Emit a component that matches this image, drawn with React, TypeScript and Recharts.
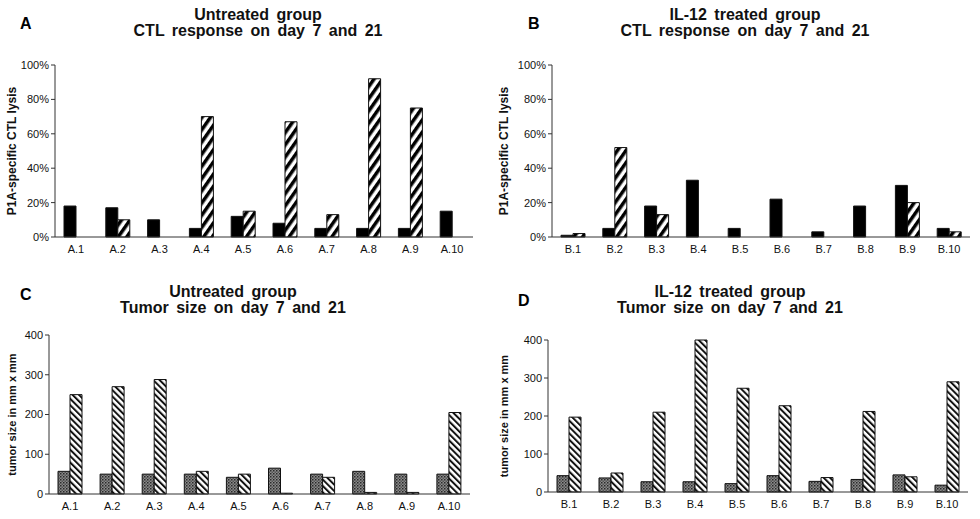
import { BarChart, Bar, XAxis, YAxis } from "recharts";

const subjectsA = ["A.1", "A.2", "A.3", "A.4", "A.5", "A.6", "A.7", "A.8", "A.9", "A.10"];
const subjectsB = ["B.1", "B.2", "B.3", "B.4", "B.5", "B.6", "B.7", "B.8", "B.9", "B.10"];

// CTL lysis (%) day 7 / day 21
const ctlA7 = [18, 17, 10, 5, 12, 8, 5, 5, 5, 15];
const ctlA21 = [0, 10, 0, 70, 15, 67, 13, 92, 75, 0];
const ctlB7 = [1, 5, 18, 33, 5, 22, 3, 18, 30, 5];
const ctlB21 = [2, 52, 13, 0, 0, 0, 0, 0, 20, 3];

// tumor size (mm x mm) day 7 / day 21
const tumorA7 = [57, 50, 50, 50, 42, 65, 50, 57, 50, 50];
const tumorA21 = [250, 270, 288, 57, 50, 2, 42, 4, 4, 205];
const tumorB7 = [43, 37, 27, 27, 22, 43, 28, 33, 45, 18];
const tumorB21 = [197, 50, 210, 400, 273, 227, 38, 212, 40, 290];

const pctTicks = [0, 20, 40, 60, 80, 100];
const sizeTicks = [0, 100, 200, 300, 400];
const boundaryTicks = [0, 1, 2, 3, 4, 5, 6, 7, 8, 9, 10];

const font = "'Liberation Sans', Arial, sans-serif";

const toRows = (names: string[], d7: number[], d21: number[]) =>
  names.map((name, i) => ({ name, d7: d7[i], d21: d21[i] }));

function Patterns() {
  return (
    <defs>
      <pattern id="thickHatch" width="7" height="7" patternUnits="userSpaceOnUse" patternTransform="rotate(35)">
        <rect width="7" height="7" fill="#fff" />
        <rect width="3.5" height="7" fill="#000" />
      </pattern>
      <pattern id="thinHatch" width="4.5" height="4.5" patternUnits="userSpaceOnUse" patternTransform="rotate(-45)">
        <rect width="4.5" height="4.5" fill="#fff" />
        <rect width="2" height="4.5" fill="#111" />
      </pattern>
      <pattern id="dots" width="3" height="3" patternUnits="userSpaceOnUse">
        <rect width="3" height="3" fill="#8a8a8a" />
        <rect width="1.5" height="1.5" fill="#2a2a2a" />
        <rect x="1.5" y="1.5" width="1.5" height="1.5" fill="#555" />
      </pattern>
    </defs>
  );
}

interface PanelProps {
  left: number;
  top: number;
  width: number;
  height: number;
  margin: { top: number; right: number; bottom: number; left: number };
  yWidth: number;
  rows: { name: string; d7: number; d21: number }[];
  ticks: number[];
  domain: [number, number];
  percent?: boolean;
  fill7: string;
  fill21: string;
  yLabel: string;
  labelSize: number;
}

function Panel(p: PanelProps) {
  return (
    <div style={{ position: "absolute", left: p.left, top: p.top }}>
      <BarChart
        width={p.width}
        height={p.height}
        data={p.rows}
        margin={p.margin}
        barSize={12}
        barGap={0}
      >
        <Patterns />
        <XAxis
          xAxisId="edges"
          type="number"
          domain={[0, 10]}
          ticks={boundaryTicks}
          height={0}
          tick={false}
          axisLine={false}
          tickLine={{ stroke: "#333" }}
          tickSize={4}
        />
        <XAxis
          dataKey="name"
          height={22}
          tickLine={false}
          axisLine={{ stroke: "#333" }}
          tick={{ fontSize: 11, fill: "#111", fontFamily: font }}
          interval={0}
        />
        <YAxis
          width={p.yWidth}
          domain={p.domain}
          ticks={p.ticks}
          axisLine={{ stroke: "#333" }}
          tickLine={{ stroke: "#333" }}
          tickSize={4}
          tick={{ fontSize: 11, fill: "#111", fontFamily: font }}
          tickFormatter={(v: number) => (p.percent ? `${v}%` : `${v}`)}
          label={{
            value: p.yLabel,
            angle: -90,
            position: "insideLeft",
            offset: 4,
            style: { fontSize: p.labelSize, fontWeight: "bold", fill: "#111", fontFamily: font, textAnchor: "middle" },
          }}
        />
        <Bar dataKey="d7" fill={p.fill7} stroke="#111" strokeWidth={1} isAnimationActive={false} />
        <Bar dataKey="d21" fill={p.fill21} stroke="#111" strokeWidth={1} isAnimationActive={false} />
      </BarChart>
    </div>
  );
}

function Title({ x, y, letter, lx, ly, lines }: { x: number; y: number; letter: string; lx: number; ly: number; lines: string[] }) {
  return (
    <>
      <div style={{ position: "absolute", left: lx, top: ly, fontSize: 16, fontWeight: "bold", fontFamily: font }}>{letter}</div>
      <div
        style={{
          position: "absolute",
          left: x - 200,
          top: y,
          width: 400,
          textAlign: "center",
          fontSize: 16,
          lineHeight: "16px",
          wordSpacing: 3,
          fontWeight: "bold",
          fontFamily: font,
          color: "#111",
        }}
      >
        {lines.map((l) => (
          <div key={l}>{l}</div>
        ))}
      </div>
    </>
  );
}

export default function App() {
  return (
    <div style={{ position: "absolute", left: 0, top: 0, width: 980, height: 519, background: "#fff", fontFamily: font }}>
      <Title x={258} y={7} letter="A" lx={20} ly={15} lines={["Untreated group", "CTL response on day 7 and 21"]} />
      <Title x={745} y={7} letter="B" lx={528} ly={15} lines={["IL-12 treated group", "CTL response on day 7 and 21"]} />
      <Title x={233} y={284} letter="C" lx={20} ly={286} lines={["Untreated group", "Tumor size on day 7 and 21"]} />
      <Title x={730} y={284} letter="D" lx={518} ly={292} lines={["IL-12 treated group", "Tumor size on day 7 and 21"]} />

      <Panel
        left={0}
        top={0}
        width={490}
        height={260}
        margin={{ top: 65, right: 17, bottom: 1, left: 8 }}
        yWidth={47}
        rows={toRows(subjectsA, ctlA7, ctlA21)}
        ticks={pctTicks}
        domain={[0, 100]}
        percent
        fill7="#000"
        fill21="url(#thickHatch)"
        yLabel="P1A-specific CTL lysis"
        labelSize={12}
      />
      <Panel
        left={490}
        top={0}
        width={490}
        height={260}
        margin={{ top: 65, right: 10, bottom: 1, left: 10 }}
        yWidth={52}
        rows={toRows(subjectsB, ctlB7, ctlB21)}
        ticks={pctTicks}
        domain={[0, 100]}
        percent
        fill7="#000"
        fill21="url(#thickHatch)"
        yLabel="P1A-specific CTL lysis"
        labelSize={12}
      />
      <Panel
        left={0}
        top={260}
        width={490}
        height={259}
        margin={{ top: 75, right: 20, bottom: 3, left: 8 }}
        yWidth={41}
        rows={toRows(subjectsA, tumorA7, tumorA21)}
        ticks={sizeTicks}
        domain={[0, 400]}
        fill7="url(#dots)"
        fill21="url(#thinHatch)"
        yLabel="tumor size in mm x mm"
        labelSize={11}
      />
      <Panel
        left={490}
        top={260}
        width={490}
        height={259}
        margin={{ top: 80, right: 12, bottom: 5, left: 10 }}
        yWidth={48}
        rows={toRows(subjectsB, tumorB7, tumorB21)}
        ticks={sizeTicks}
        domain={[0, 400]}
        fill7="url(#dots)"
        fill21="url(#thinHatch)"
        yLabel="tumor size in mm x mm"
        labelSize={11}
      />
    </div>
  );
}
